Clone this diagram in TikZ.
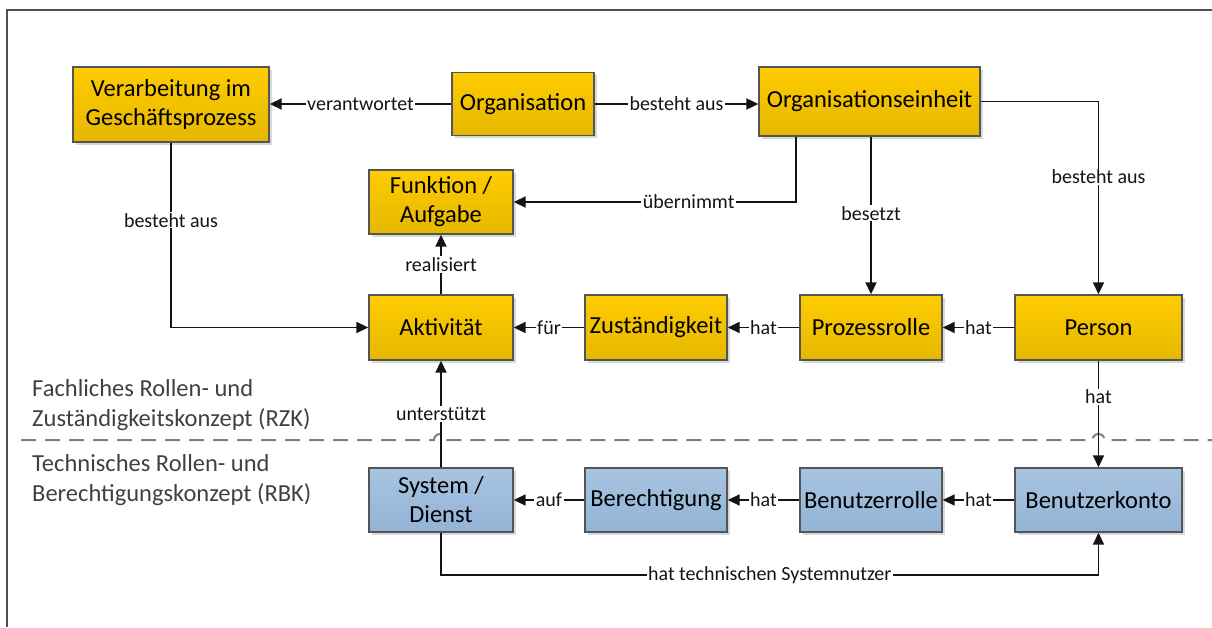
\documentclass[tikz,border=0pt]{standalone}
\usepackage{fontspec}
\setmainfont{Carlito}
\usetikzlibrary{arrows.meta,shadows}
\definecolor{ytop}{HTML}{FFCC00}
\definecolor{ybot}{HTML}{E5B700}
\definecolor{btop}{HTML}{A7C4E0}
\definecolor{bbot}{HTML}{93B3D6}
\definecolor{bord}{HTML}{555555}
\definecolor{lin}{HTML}{141414}
\definecolor{dashc}{HTML}{7F7F7F}
\definecolor{sidetxt}{HTML}{404040}
\definecolor{framec}{HTML}{505050}
\tikzset{
  box/.style={draw=bord, line width=1.4pt, inner sep=2pt, align=center,
    font=\fontsize{24.5}{29}\selectfont, text=black,
    minimum width=142pt, minimum height=64pt,
    drop shadow={shadow xshift=2.5pt, shadow yshift=-2.5pt, fill=black!30, opacity=0.5}},
  ybox/.style={box, top color=ytop, bottom color=ybot},
  bbox/.style={box, top color=btop, bottom color=bbot},
  conn/.style={draw=lin, line width=1.9pt, -{Triangle[length=12pt,width=11pt]}},
  lbl/.style={fill=white, inner xsep=1.5pt, inner ysep=1pt,
    font=\fontsize{20}{24}\selectfont, text=lin},
  side/.style={anchor=west, align=left, inner sep=0pt,
    font=\fontsize{24.5}{30}\selectfont, text=sidetxt},
}
\begin{document}
\begin{tikzpicture}[x=1pt,y=-1pt]
\useasboundingbox (0,0) rectangle (1212,627);
% frame
\draw[framec, line width=1.3pt] (7,627) -- (7,10) -- (1212,10);
% separator
\draw[dashc, line width=2pt, dash pattern=on 15pt off 9pt]
  (21,440) -- (434,440) arc[start angle=180,end angle=360,radius=6]
  -- (1092.5,440) arc[start angle=180,end angle=360,radius=6] -- (1212,440);
% side texts
\node[side] (rzk) at (32,405) {Fachliches Rollen- und\\Zuständigkeitskonzept (RZK)};
\node[side] (rbk) at (32,480) {Technisches Rollen- und\\Berechtigungskonzept (RBK)};
% boxes
\node[ybox, minimum width=196pt, minimum height=75pt] (verarb) at (171,104.5) {Verarbeitung im\\Geschäftsprozess};
\node[ybox, minimum height=63pt] (org) at (523,104) {Organisation};
\node[ybox, minimum width=221pt, minimum height=69pt] (orgeh) at (869.5,101.5) {Organisationseinheit};
\node[ybox, minimum width=144pt] (funk) at (441,202) {Funktion /\\Aufgabe};
\node[ybox, minimum width=144pt, minimum height=65pt] (akt) at (441,327.5) {Aktivität};
\node[ybox, minimum height=65pt] (zust) at (656,327.5) {Zuständigkeit};
\node[ybox, minimum height=65pt] (proz) at (871,327.5) {Prozessrolle};
\node[ybox, minimum width=167pt, minimum height=65pt] (person) at (1098.5,327.5) {Person};
\node[bbox, minimum width=144pt] (sys) at (441,500) {System /\\Dienst};
\node[bbox] (ber) at (656,500) {Berechtigung};
\node[bbox] (brolle) at (871,500) {Benutzerrolle};
\node[bbox, minimum width=167pt] (bkonto) at (1098.5,500) {Benutzerkonto};
% connectors
\coordinate (ux) at (796,0);
\coordinate (bot) at (0,575);
\draw[conn] (org.west) -- node[lbl]{verantwortet} (org.west -| verarb.east);
\draw[conn] (org.east) -- node[lbl]{besteht aus} (org.east -| orgeh.west);
\draw[conn] (orgeh.south -| ux) |- node[lbl,pos=0.69]{übernimmt} (funk.east);
\draw[conn] (orgeh.south -| proz.north) -- node[lbl,pos=0.485]{besetzt} (proz.north);
\draw[conn] (orgeh.east) -| node[lbl,pos=0.695]{besteht aus} (person.north);
\draw[conn] (verarb.south) |- node[lbl,pos=0.21]{besteht aus} (akt.west);
\draw[conn] (akt) -- node[lbl]{realisiert} (funk);
\draw[conn] (zust) -- node[lbl]{für} (akt);
\draw[conn] (proz) -- node[lbl]{hat} (zust);
\draw[conn] (person) -- node[lbl]{hat} (proz);
\draw[conn] (person) -- node[lbl,pos=0.34]{hat} (bkonto);
\draw[conn] (sys) -- node[lbl]{unterstützt} (akt);
\draw[conn] (ber) -- node[lbl]{auf} (sys);
\draw[conn] (brolle) -- node[lbl]{hat} (ber);
\draw[conn] (bkonto) -- node[lbl]{hat} (brolle);
\draw[conn] (sys.south) -- (sys.south |- bot) -- node[lbl]{hat technischen Systemnutzer} (bkonto.south |- bot) -- (bkonto.south);
\end{tikzpicture}
\end{document}
